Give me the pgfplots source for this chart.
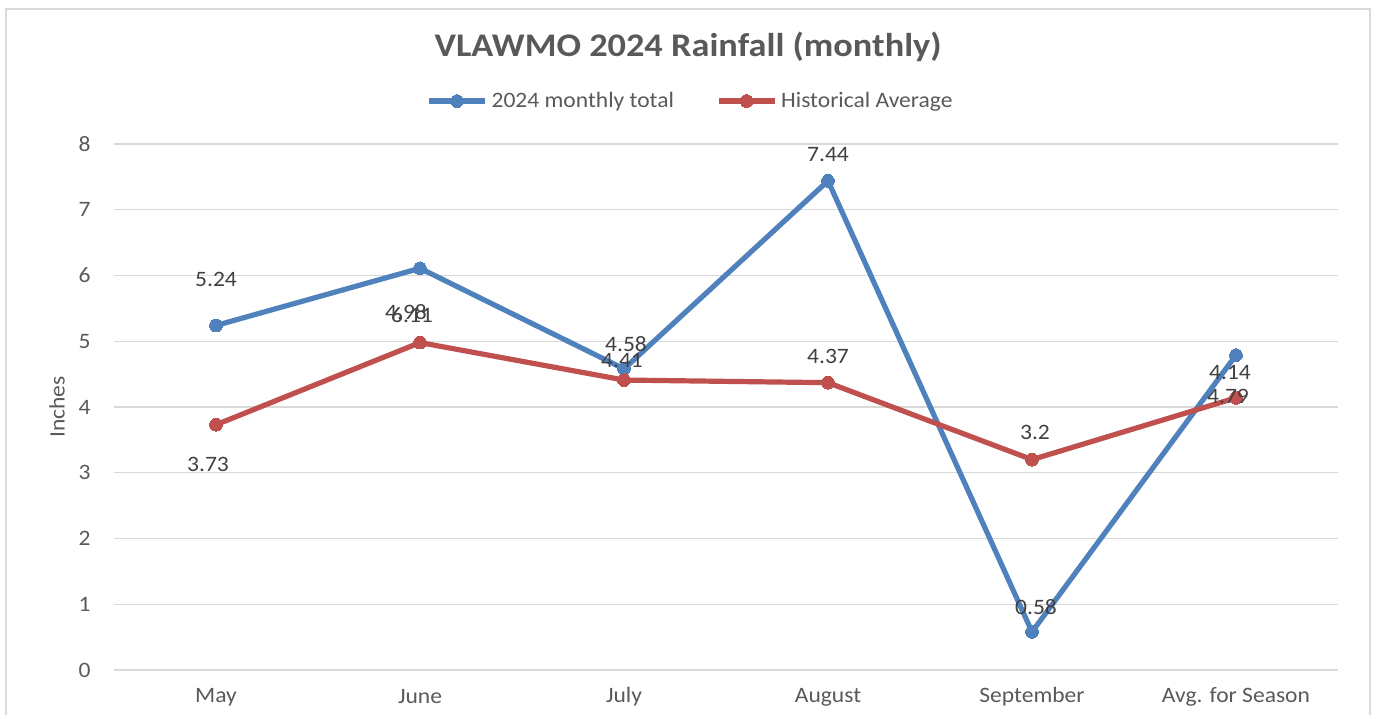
\documentclass[border=0pt]{standalone}
\usepackage{pgfplots}
\pgfplotsset{compat=1.18}
\usepackage{pgfplotstable}
\usepackage{fontspec}
\setmainfont{Carlito}[FakeStretch=1.07]
\newfontfamily\titlefont{Carlito}[FakeStretch=1.1]
\definecolor{cblue}{RGB}{79,129,189}
\definecolor{cred}{RGB}{192,80,77}
\definecolor{txt}{RGB}{89,89,89}
\definecolor{lbl}{RGB}{64,64,64}
\definecolor{gridc}{RGB}{217,217,217}

\pgfplotstableread{
x y dx dy lab
0 5.24 0 23 5.24
1 6.11 -4 -23.5 6.11
2 4.58 1 12.5 4.58
3 7.44 0 13 7.44
4 0.58 2 12.5 0.58
5 4.79 -4 -20.5 4.79
}\bluetab

\pgfplotstableread{
x y dx dy lab
0 3.73 -4 -20 3.73
1 4.98 -7 15.5 4.98
2 4.41 -1 10 4.41
3 4.37 0 13 4.37
4 3.2 1.5 13.5 3.2
5 4.14 -3 12.5 4.14
}\redtab

\begin{document}
\begin{tikzpicture}
\useasboundingbox (0,0) rectangle (687pt,-357.5pt);
\draw[color=gridc, line width=0.8pt] (3pt,-4.5pt) rectangle (685pt,-380pt);
\begin{axis}[
  at={(57pt,-335pt)}, anchor=south west,
  scale only axis, width=612pt, height=263pt,
  xmin=-0.5, xmax=5.5, ymin=0, ymax=8,
  xtick={0,...,5},
  xticklabels={May,June,July,August,September,Avg. for Season},
  ytick={0,...,8},
  axis line style={draw=none},
  major tick length=0pt,
  ymajorgrids, grid style={gridc, line width=0.6pt},
  font=\fontsize{11}{13}\selectfont,
  /pgf/number format/assume math mode=true,
  tick label style={color=txt, font=\fontsize{11}{13}\selectfont},
  yticklabel style={anchor=east, inner sep=0pt, xshift=-11.5pt},
  xticklabel style={anchor=center, inner sep=0pt, yshift=-13.5pt},
  ylabel={Inches},
  every axis y label/.style={at={(axis description cs:-0.0466,0.5)}, rotate=90, anchor=center, color=txt, font=\fontsize{11}{13}\selectfont},
  title={VLAWMO 2024 Rainfall (monthly)},
  every axis title/.style={at={(axis description cs:0.469,1.1844)}, anchor=center, color=txt, font=\fontsize{16.5}{19}\titlefont\bfseries},
  legend style={at={(axis description cs:0.4718,1.0817)}, anchor=center, draw=none, fill=none, text=txt, font=\fontsize{11}{13}\selectfont, inner sep=0pt,
    /tikz/every even column/.append style={column sep=19pt}},
  legend columns=2,
  legend cell align=left,
  legend image code/.code={\draw[mark repeat=2, mark phase=2, #1] plot coordinates {(0pt,0pt) (14pt,0pt) (28pt,0pt)};},
]
\addplot[cblue, line width=2.6pt, line join=round, mark=*, mark size=3.2pt, mark options={solid, fill=cblue, draw=cblue, line width=0pt}] table[x=x, y=y] {\bluetab};
\addlegendentry{2024 monthly total}
\addplot[cred, line width=2.6pt, line join=round, mark=*, mark size=3.2pt, mark options={solid, fill=cred, draw=cred, line width=0pt}] table[x=x, y=y] {\redtab};
\addlegendentry{Historical Average}

\addplot[forget plot, draw=none, mark=none, nodes near coords, point meta=explicit symbolic,
  visualization depends on={\thisrow{dx}\as\mydx},
  visualization depends on={\thisrow{dy}\as\mydy},
  every node near coord/.style={anchor=center, inner sep=0pt, xshift=\mydx pt, yshift=\mydy pt, text=lbl, font=\fontsize{11}{13}\selectfont}]
  table[x=x, y=y, meta=lab] {\bluetab};
\addplot[forget plot, draw=none, mark=none, nodes near coords, point meta=explicit symbolic,
  visualization depends on={\thisrow{dx}\as\mydx},
  visualization depends on={\thisrow{dy}\as\mydy},
  every node near coord/.style={anchor=center, inner sep=0pt, xshift=\mydx pt, yshift=\mydy pt, text=lbl, font=\fontsize{11}{13}\selectfont}]
  table[x=x, y=y, meta=lab] {\redtab};
\end{axis}
\end{tikzpicture}
\end{document}
